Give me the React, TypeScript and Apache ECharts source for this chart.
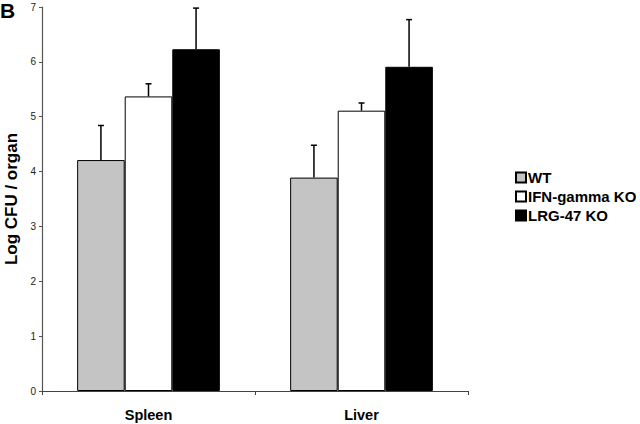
import React, { useEffect, useRef } from "react";
import * as echarts from "echarts";

const categories = ["Spleen", "Liver"];
const seriesNames = ["WT", "IFN-gamma KO", "LRG-47 KO"];
const wtValues = [4.21, 3.89];
const ifnValues = [5.37, 5.11];
const lrgValues = [6.23, 5.91];
const wtErrTop = [4.84, 4.48];
const ifnErrTop = [5.6, 5.25];
const lrgErrTop = [6.98, 6.77];
const yTicks = [0, 1, 2, 3, 4, 5, 6, 7];

const colors = ["#c4c4c4", "#ffffff", "#000000"];
const GAP = 0.33;

export default function App() {
  const ref = useRef<HTMLDivElement>(null);
  useEffect(() => {
    if (!ref.current) return;
    const chart = echarts.init(ref.current, undefined, { renderer: "svg" });
    const values = [wtValues, ifnValues, lrgValues];
    const errs = [wtErrTop, ifnErrTop, lrgErrTop];
    const font = "'Liberation Sans', Arial, sans-serif";

    const barSeries = seriesNames.map((name, i) => ({
      name,
      type: "bar",
      data: values[i],
      barGap: "0%",
      barCategoryGap: GAP * 100 + "%",
      itemStyle: { color: colors[i], borderColor: "#000", borderWidth: 1 },
      z: 2,
    }));

    const errSeries = seriesNames.map((name, i) => ({
      type: "custom",
      name: name + "_err",
      data: categories.map((_, c) => [c, values[i][c], errs[i][c]]),
      z: 3,
      renderItem: (params: any, api: any) => {
        const c = api.value(0);
        const v = api.value(1);
        const e = api.value(2);
        const catW = api.size([1, 0])[0];
        const bw = (catW * (1 - GAP)) / 3;
        const off = (i - 1) * bw;
        const p0 = api.coord([c, v]);
        const p1 = api.coord([c, e]);
        const x = p0[0] + off;
        const style = { stroke: "#000", lineWidth: 1.5 };
        return {
          type: "group",
          children: [
            { type: "line", shape: { x1: x, y1: p0[1], x2: x, y2: p1[1] }, style },
            { type: "line", shape: { x1: x - 3, y1: p1[1], x2: x + 3, y2: p1[1] }, style },
          ],
        };
      },
    }));

    chart.setOption({
      animation: false,
      backgroundColor: "#fff",
      grid: { left: 42, right: 172, top: 7, bottom: 33, outerBoundsMode: "none", containLabel: false },
      legend: {
        data: seriesNames,
        orient: "vertical",
        left: 510,
        top: 165,
        icon: "rect",
        itemWidth: 10,
        itemHeight: 10,
        itemGap: 4,
        textStyle: { fontFamily: font, fontWeight: "bold", fontSize: 15, color: "#000", padding: [0, 0, 0, -3] },
      },
      xAxis: {
        type: "category",
        data: categories,
        axisLine: { lineStyle: { color: "#444", width: 1.2 } },
        axisTick: { show: true, length: 4, lineStyle: { color: "#444" } },
        axisLabel: { fontFamily: font, fontWeight: "bold", fontSize: 14.5, color: "#000", margin: 16 },
      },
      yAxis: {
        type: "value",
        min: yTicks[0],
        max: yTicks[yTicks.length - 1],
        interval: 1,
        name: "Log CFU / organ",
        nameLocation: "middle",
        nameGap: 21,
        nameTextStyle: { fontFamily: font, fontWeight: "bold", fontSize: 17, color: "#000" },
        splitLine: { show: false },
        axisLine: { show: true, lineStyle: { color: "#555", width: 1.2 } },
        axisTick: { show: true, length: 3, lineStyle: { color: "#555" } },
        axisLabel: { fontFamily: font, fontSize: 10, color: "#222", margin: 6 },
      },
      graphic: [
        {
          type: "text",
          left: 0,
          top: 0,
          style: { text: "B", fontFamily: font, fontWeight: "bold", fontSize: 21, fill: "#000" },
        },
      ],
      series: [...barSeries, ...errSeries],
    });
    return () => chart.dispose();
  }, []);
  return <div ref={ref} style={{ width: 640, height: 424, position: "absolute", left: 0, top: 0 }} />;
}
